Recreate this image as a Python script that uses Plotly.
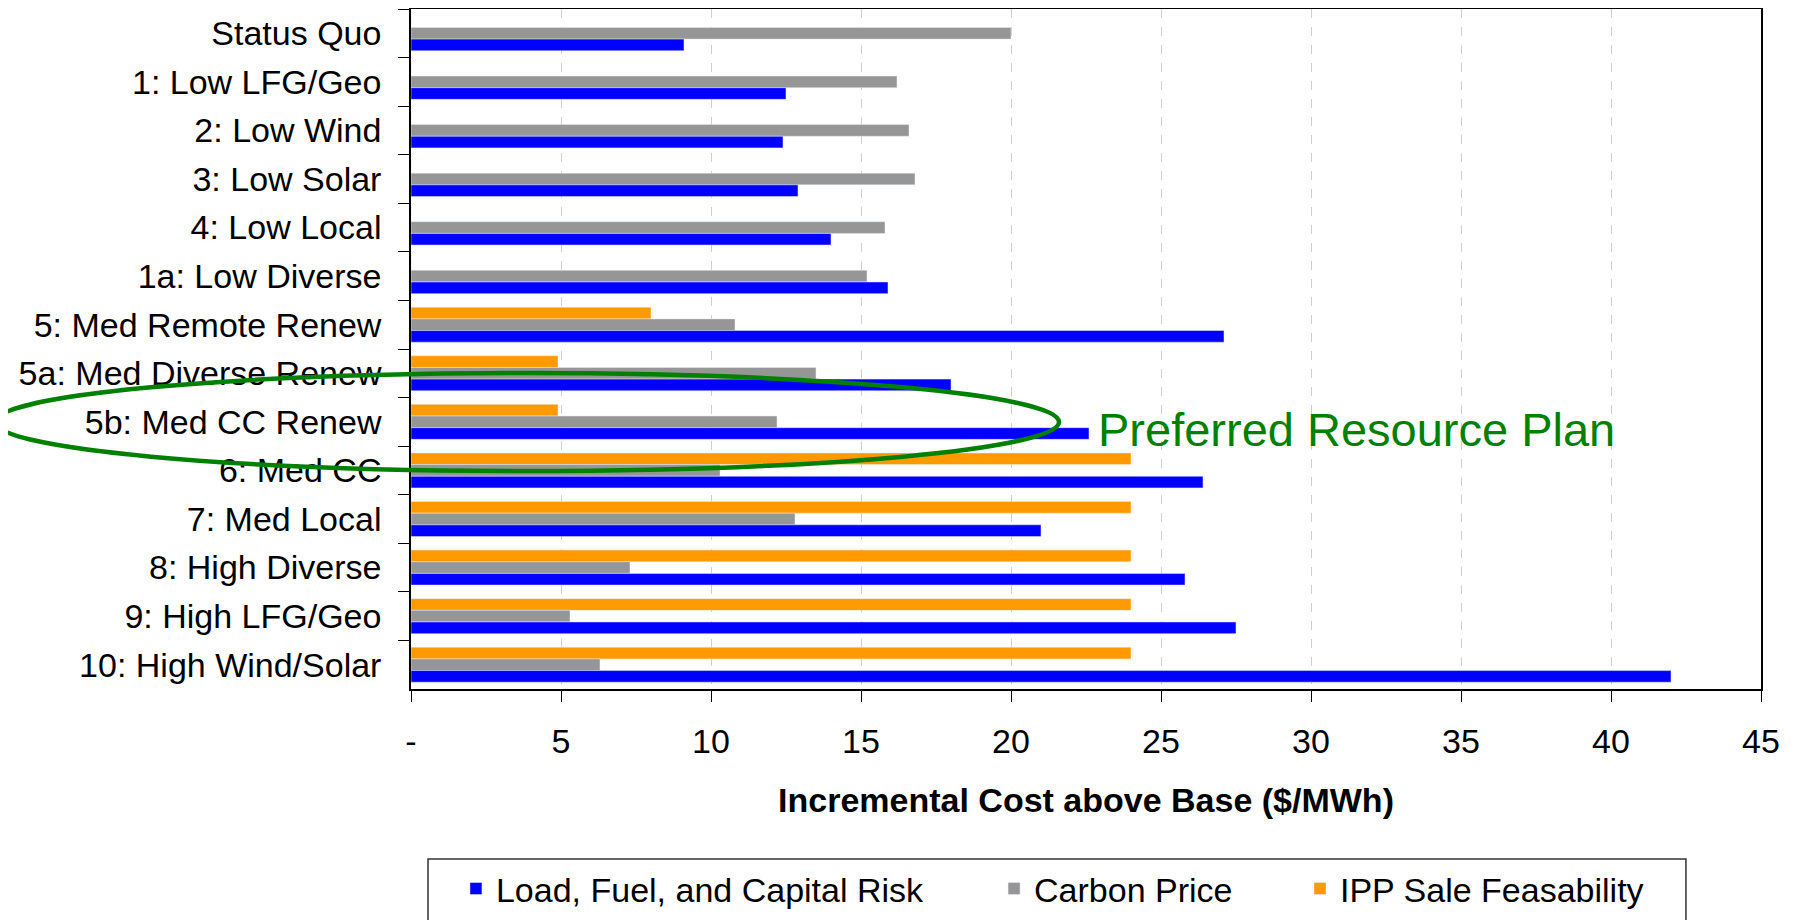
import plotly.graph_objects as go

# scenarios, top to bottom
scenarios = ["Status Quo", "1: Low LFG/Geo", "2: Low Wind", "3: Low Solar", "4: Low Local",
             "1a: Low Diverse", "5: Med Remote Renew", "5a: Med Diverse Renew", "5b: Med CC Renew",
             "6: Med CC", "7: Med Local", "8: High Diverse", "9: High LFG/Geo", "10: High Wind/Solar"]

# incremental cost above base ($/MWh)
load_risk = [9.1, 12.5, 12.4, 12.9, 14.0, 15.9, 27.1, 18.0, 22.6, 26.4, 21.0, 25.8, 27.5, 42.0]
carbon = [20.0, 16.2, 16.6, 16.8, 15.8, 15.2, 10.8, 13.5, 12.2, 10.3, 12.8, 7.3, 5.3, 6.3]
ipp_sale = [0, 0, 0, 0, 0, 0, 8.0, 4.9, 4.9, 24.0, 24.0, 24.0, 24.0, 24.0]

tick_vals = [0, 5, 10, 15, 20, 25, 30, 35, 40, 45]
tick_text = ["-", "5", "10", "15", "20", "25", "30", "35", "40", "45"]

FONT = "Liberation Sans, Arial, sans-serif"

# first trace sits on top of each group (y axis reversed)
data = [
    go.Bar(y=scenarios, x=ipp_sale, orientation="h", name="IPP Sale Feasability",
           marker_color="#FF9900", legend="legend3"),
    go.Bar(y=scenarios, x=carbon, orientation="h", name="Carbon Price",
           marker_color="#969696", legend="legend2"),
    go.Bar(y=scenarios, x=load_risk, orientation="h", name="Load, Fuel, and Capital Risk",
           marker_color="#0000FF", legend="legend"),
]

leg = dict(orientation="h", yanchor="middle", y=-0.294, xanchor="left",
           font=dict(family=FONT, size=34, color="black"), bgcolor="rgba(0,0,0,0)")

# page body has an 8px margin, so the figure is trimmed by 8px
layout = go.Layout(
    width=1793, height=912,
    margin=dict(l=403, r=40, t=1, b=231, autoexpand=False),
    plot_bgcolor="white", paper_bgcolor="white",
    font=dict(family=FONT, size=34, color="black"),
    showlegend=True,
    barmode="group", bargap=0.28, bargroupgap=0,
    xaxis=dict(range=[0, 45], tickvals=tick_vals, ticktext=tick_text,
               ticks="outside", ticklen=11, tickcolor="black", tickwidth=1,
               ticklabelstandoff=10, automargin=False,
               showline=True, linecolor="black", linewidth=1.5, mirror=True,
               showgrid=True, gridcolor="#cfcfcf", griddash="9px,9px", zeroline=False,
               title=dict(text="<b>Incremental Cost above Base ($/MWh)</b>", standoff=30,
                          font=dict(size=34))),
    yaxis=dict(autorange="reversed", tickson="boundaries", ticks="outside", ticklen=11,
               tickcolor="black", showline=True, linecolor="black", linewidth=1.5,
               mirror=True, showgrid=False, ticklabelstandoff=21, automargin=False),
    legend=dict(leg, x=0.0333),
    legend2=dict(leg, x=0.4319),
    legend3=dict(leg, x=0.6585),
    shapes=[
        # legend frame
        dict(type="rect", xref="paper", yref="paper", x0=0.0126, x1=0.9444, y0=-0.36, y1=-0.25,
             line=dict(color="#333333", width=1.5), layer="above"),
        # preferred plan highlight
        dict(type="circle", xref="paper", yref="paper", x0=-0.308, x1=0.48, y0=0.3206, y1=0.4647,
             line=dict(color="#008000", width=4.5), layer="above"),
    ],
    annotations=[
        dict(text="Preferred Resource Plan", xref="paper", yref="paper", x=0.5074, y=0.381,
             xanchor="left", yanchor="middle", showarrow=False,
             font=dict(family=FONT, size=47, color="#008000")),
    ],
)

fig = go.Figure(data=data, layout=layout)
fig.write_html("out.html")
